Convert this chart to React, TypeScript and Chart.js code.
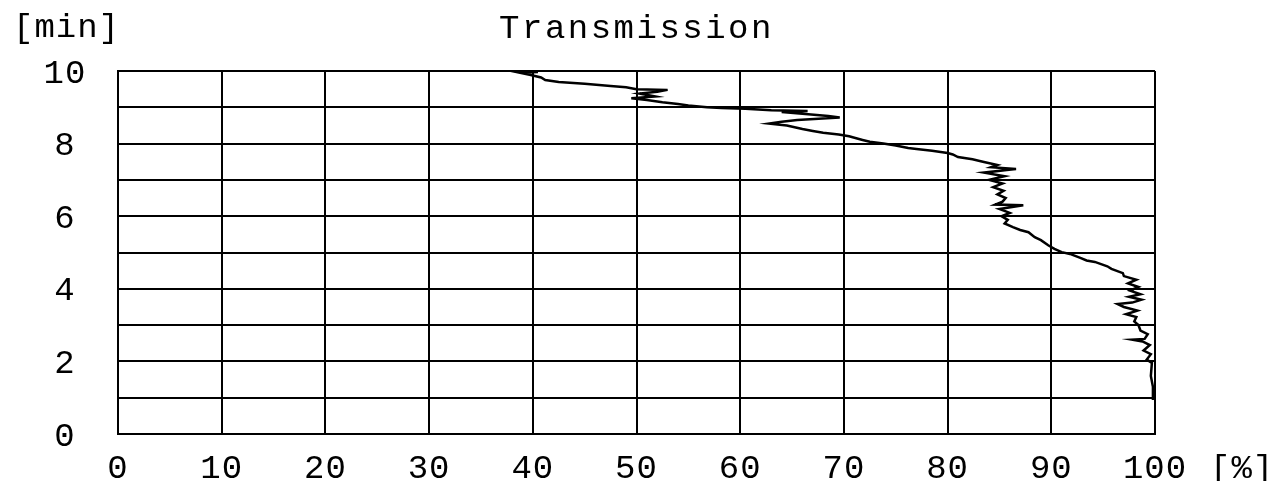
import React, { useEffect, useRef } from "react";
import { Chart, registerables } from "chart.js";

Chart.register(...registerables);

// Time [min] (y) and transmission [%] (x) along the recorded trace
const timeMin: number[] = [
  0.94, 1.3, 1.6, 1.96, 2.05, 2.2, 2.3, 2.45, 2.55, 2.6, 2.62, 2.75, 2.85, 3.0, 3.1, 3.22,
  3.3, 3.4, 3.5, 3.58, 3.62, 3.7, 3.78, 3.85, 3.95, 4.05, 4.15, 4.25, 4.35, 4.43, 4.55,
  4.62, 4.74, 4.78, 4.85, 4.96, 5.01, 5.1, 5.2, 5.34, 5.42, 5.56, 5.62, 5.7, 5.8, 5.9,
  6.0, 6.09, 6.2, 6.3, 6.32, 6.4, 6.5, 6.6, 6.7, 6.8, 6.9, 7.0, 7.1, 7.2, 7.27, 7.3,
  7.35, 7.41, 7.5, 7.57, 7.63, 7.7, 7.74, 7.8, 7.85, 7.88, 7.95, 8.0, 8.05, 8.1, 8.2,
  8.25, 8.3, 8.35, 8.4, 8.5, 8.55, 8.6, 8.65, 8.72, 8.76, 8.82, 8.87, 8.9, 8.92, 8.96,
  8.98, 9.0, 9.05, 9.09, 9.14, 9.2, 9.25, 9.3, 9.38, 9.43, 9.48, 9.5, 9.55, 9.59, 9.65,
  9.7, 9.75, 9.82, 9.89, 9.95, 9.97,
];
const transmission: number[] = [
  99.8, 99.8, 99.6, 99.7, 99.2, 99.6, 98.9, 99.5, 98.8, 97.8, 99.0, 99.3, 98.6, 98.4, 98.0, 98.2,
  97.2, 98.3, 97.0, 96.4, 97.8, 98.7, 97.5, 98.6, 97.6, 98.4, 97.4, 98.2, 97.0, 96.9, 95.8,
  95.4, 94.2, 93.4, 92.8, 91.8, 91.0, 90.3, 89.7, 89.0, 88.4, 87.8, 87.0, 86.3, 85.5, 85.8,
  85.2, 86.0, 85.0, 87.3, 84.6, 85.3, 85.6, 84.8, 85.4, 84.4, 85.3, 84.0, 85.5, 83.5, 85.7, 86.6,
  84.2, 84.8, 83.4, 82.4, 81.0, 80.5, 80.0, 78.5, 77.0, 76.2, 75.0, 73.8, 72.5, 71.8, 70.5,
  69.5, 68.0, 67.0, 66.0, 64.5, 62.8, 64.0, 65.5, 69.6, 68.5, 66.0, 64.0, 66.5, 63.0, 60.5,
  58.2, 56.8, 55.0, 54.0, 52.5, 51.0, 49.5, 51.8, 50.3, 52.0, 53.0, 50.0, 49.0, 47.5, 45.0,
  42.5, 41.2, 40.8, 39.8, 38.8, 40.5,
];

const xTickValues: number[] = [0, 10, 20, 30, 40, 50, 60, 70, 80, 90, 100];
const yTickValues: number[] = [0, 2, 4, 6, 8, 10];
const titleText = "Transmission";
const yUnit = "[min]";
const xUnit = "[%]";

const FONT = '34px "Liberation Mono", "DejaVu Sans Mono", monospace';

const textPlugin = {
  id: "plotterText",
  afterDraw(chart: any) {
    const ctx = chart.ctx as CanvasRenderingContext2D;
    const xs = chart.scales.x;
    const ys = chart.scales.y;
    const area = chart.chartArea;
    ctx.save();
    ctx.fillStyle = "#000";
    ctx.font = FONT;
    ctx.textBaseline = "alphabetic";
    (ctx as any).letterSpacing = "1px";
    ctx.textAlign = "center";
    xTickValues.forEach((v) => {
      ctx.fillText(String(v), xs.getPixelForValue(v), 469.5);
    });
    yTickValues.forEach((v) => {
      ctx.fillText(String(v), 57, ys.getPixelForValue(v) + 11.5);
    });
    ctx.textAlign = "left";
    ctx.fillText(xUnit, 1202, 469.5);
    ctx.fillText(yUnit, 5, 29);
    (ctx as any).letterSpacing = "2.5px";
    ctx.textAlign = "center";
    ctx.fillText(titleText, (area.left + area.right) / 2, 29.5);
    ctx.restore();
  },
};

export default function App() {
  const ref = useRef<HTMLCanvasElement | null>(null);
  useEffect(() => {
    if (!ref.current) return;
    const points = timeMin.map((t, i) => ({ x: transmission[i], y: t }));
    const axisCommon = {
      grid: { color: "#000", lineWidth: 2, drawTicks: false },
      border: { display: true, color: "#000", width: 2 },
    };
    const chart = new Chart(ref.current, {
      type: "scatter",
      data: {
        datasets: [
          {
            data: points,
            showLine: true,
            borderColor: "#000",
            backgroundColor: "#000",
            borderWidth: 2.5,
            pointRadius: 0,
            tension: 0,
          },
        ],
      },
      options: {
        animation: false,
        responsive: false,
        maintainAspectRatio: false,
        layout: { padding: { left: 110, top: 63, right: 119, bottom: 47 } },
        plugins: { legend: { display: false }, tooltip: { enabled: false }, title: { display: false } },
        scales: {
          x: {
            type: "linear",
            min: 0,
            max: 100,
            ticks: { stepSize: 10, display: false },
            ...axisCommon,
          },
          y: {
            type: "linear",
            min: 0,
            max: 10,
            ticks: { stepSize: 1, display: false },
            ...axisCommon,
          },
        },
      },
      plugins: [textPlugin],
    });
    return () => chart.destroy();
  }, []);
  return (
    <div style={{ width: 1266, height: 473, background: "#fff" }}>
      <canvas ref={ref} width={1266} height={473} style={{ display: "block" }} />
    </div>
  );
}
